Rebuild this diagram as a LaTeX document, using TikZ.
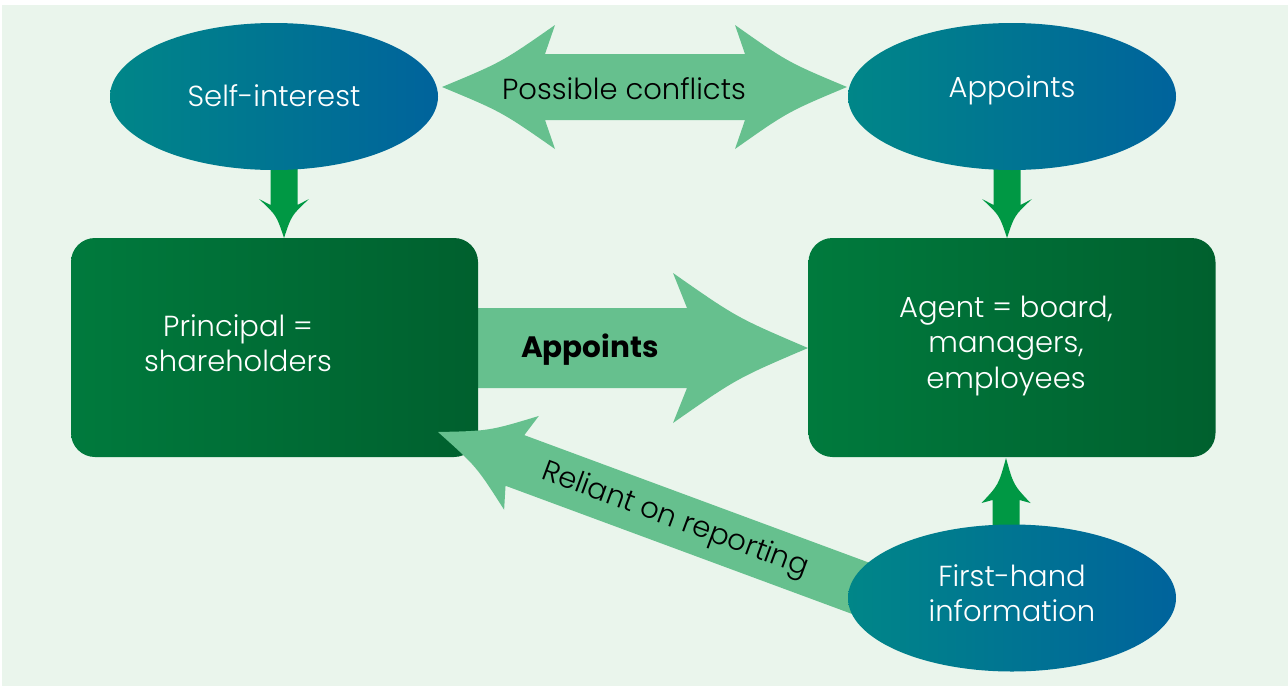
\documentclass[tikz,border=0pt]{standalone}
\usepackage{fontspec}
\setmainfont{Poppins}[UprightFont=* Light, BoldFont=* Bold]
\usetikzlibrary{shapes.geometric}

\definecolor{bgtint}{RGB}{234,245,236}
\definecolor{blockarrow}{RGB}{102,192,142}
\definecolor{pointer}{RGB}{0,152,68}
\definecolor{boxleft}{RGB}{0,122,61}
\definecolor{boxright}{RGB}{0,96,46}
\definecolor{ovalleft}{RGB}{0,134,136}
\definecolor{ovalright}{RGB}{0,99,156}

\tikzset{
  oval/.style={ellipse, minimum width=328pt, minimum height=147pt, inner sep=0pt,
    left color=ovalleft, right color=ovalright, draw=none},
  party/.style={rectangle, rounded corners=24pt, minimum width=407pt, minimum height=219pt,
    inner sep=0pt, left color=boxleft, right color=boxright, draw=none},
  whitetext/.style={text=white, align=center, font=\fontsize{29}{35.5}\selectfont, inner sep=0pt},
  darktext/.style={text=black, align=center, font=\fontsize{29}{35.5}\selectfont, inner sep=0pt},
  bigarrow/.style={fill=blockarrow, draw=none},
  smallarrow/.style={fill=pointer, draw=none}
}

\begin{document}
\begin{tikzpicture}[x=1pt, y=-1pt]
  \useasboundingbox (0,0) rectangle (1288,686);
  \fill[white] (0,0) rectangle (1288,686);
  \fill[bgtint] (2,5) rectangle (1288,686);

  % double-headed block arrow between the two upper ovals
  \path[bigarrow] (442,87) .. controls (501.9,62.1) .. (555,25) -- (545,54) -- (745,54)
     -- (735,25) .. controls (787.6,62.1) .. (847,87)
     .. controls (787.6,111.9) .. (735,149) -- (745,120) -- (545,120) -- (555,149)
     .. controls (501.9,111.9) .. (442,87) -- cycle;
  \node[darktext] (conflicts) at (624,89) {Possible conflicts};

  % principal appoints agent
  \path[bigarrow] (470,308) -- (687,308) -- (673,273) .. controls (736.6,317.5) .. (808,348)
     .. controls (736.6,378.5) .. (673,423) -- (687,388) -- (470,388) -- cycle;
  \node[darktext, font=\fontsize{29.5}{35}\selectfont\bfseries] (appointsbold) at (590,350) {Appoints};

  % the two parties
  \node[party] (principal) at (274.5,347.5) {};
  \node[party] (agent) at (1012,347.5) {};
  \node[whitetext] (principaltext) at (238,343) {Principal =\\shareholders};
  \node[whitetext] (agenttext) at (1006,346) {Agent = board,\\managers,\\employees};

  % reporting arrow back to the principal
  \begin{scope}[shift={(438,432)}, rotate=-20.3]
    \path[bigarrow] (0,0) .. controls (47.9,-18.9) .. (89,-50) -- (82,-27) -- (480,-27)
       -- (480,27) -- (82,27) -- (89,50) .. controls (47.9,18.9) .. (0,0) -- cycle;
    \node[darktext, transform shape] (reliant) at (253,1) {Reliant on reporting};
  \end{scope}

  % short pointers between ovals and boxes
  \path[smallarrow] (270.5,150) -- (270.5,205) -- (259,199) .. controls (276.5,215.3) .. (284,238)
     .. controls (291.5,215.3) .. (309,199) -- (297.5,205) -- (297.5,150) -- cycle;
  \path[smallarrow] (993.5,150) -- (993.5,205) -- (982,199) .. controls (999.5,215.3) .. (1007,238)
     .. controls (1014.5,215.3) .. (1032,199) -- (1020.5,205) -- (1020.5,150) -- cycle;
  \path[smallarrow] (992.5,545) -- (992.5,500) -- (981.5,503) .. controls (998.5,485) .. (1006,458)
     .. controls (1013.5,485) .. (1030.5,503) -- (1019.5,500) -- (1019.5,545) -- cycle;

  % ovals
  \node[oval] (self) at (274,96.5) {};
  \node[whitetext] (selftext) at (274,96) {Self-interest};
  \node[oval] (appointsoval) at (1012,96.5) {};
  \node[whitetext] (appointstext) at (1012,90.5) {Appoints};
  \node[oval] (firsthand) at (1012,598) {};
  \node[whitetext] (firsthandtext) at (1012,593) {First-hand\\information};
\end{tikzpicture}
\end{document}
